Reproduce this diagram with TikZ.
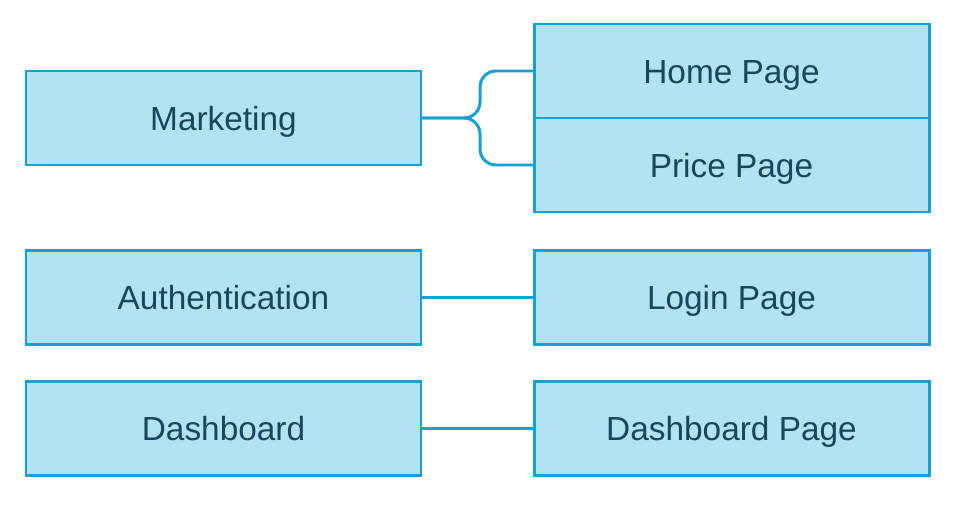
\documentclass[tikz,border=0pt]{standalone}
\usepackage{fontspec}
\setmainfont{Liberation Sans}
\usepackage{xcolor}
\usepackage{tikz}
\usetikzlibrary{positioning, calc}
\definecolor{pagefill}{HTML}{B1E3F3}
\definecolor{pageline}{HTML}{16A0D8}
\definecolor{pagetext}{HTML}{17475C}

\begin{document}
\begin{tikzpicture}[
    box/.style={rectangle, minimum width=7.9cm, minimum height=1.88cm, outer sep=0pt, fill=pagefill, draw=pageline, line width=1.7pt, text=pagetext, text height=13.7pt, text depth=0pt, font=\fontsize{19}{22}\selectfont},
    link/.style={draw=pageline, line width=1.7pt}
  ]
    \useasboundingbox (0,0) rectangle (19.08,10.18);

    % Route groups on the left
    \node[box] (marketing) at (4.47,7.82) {Marketing};
    \node[box] (auth) at (4.47,4.23) {Authentication};
    \node[box] (dashboard) at (4.47,1.61) {Dashboard};

    % Pages on the right
    \node[box] (home) at (14.63,8.76) {Home Page};
    \node[box, below=0pt of home] (price) {Price Page};
    \node[box] (login) at (14.63,4.23) {Login Page};
    \node[box] (dashpage) at (14.63,1.61) {Dashboard Page};

    % Brace from Marketing to its two pages
    \draw[link, rounded corners=0.32cm] (marketing.east) -| ([xshift=-1.08cm]home.west) -- (home.west);
    \draw[link, rounded corners=0.32cm] (marketing.east) -| ([xshift=-1.08cm]price.west) -- (price.west);

    \draw[link] (auth) -- (login);
    \draw[link] (dashboard) -- (dashpage);
  \end{tikzpicture}
\end{document}
